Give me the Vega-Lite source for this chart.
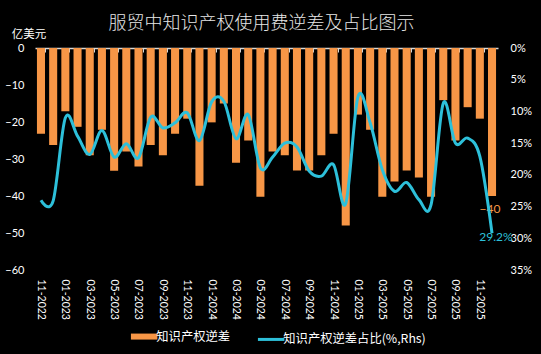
{
  "$schema": "https://vega.github.io/schema/vega-lite/v6.json",
  "width": 463,
  "height": 222,
  "autosize": {"type": "none"},
  "padding": {"left": 35, "top": 48, "right": 43, "bottom": 84},
  "background": "#000000",
  "title": {
    "text": "服贸中知识产权使用费逆差及占比图示",
    "color": "#e6e6e6",
    "fontSize": 18,
    "font": "Noto Sans CJK SC",
    "fontWeight": 300,
    "anchor": "middle",
    "dx": -5,
    "offset": -5
  },
  "config": {"view": {"stroke": null}, "axis": {"grid": false, "labelFont": "Lato"}},
  "data": {
    "values": [
      {"month": "11-2022", "deficit": -23.2, "ratio": 24.0},
      {"month": "12-2022", "deficit": -26.2, "ratio": 24.1},
      {"month": "01-2023", "deficit": -17.1, "ratio": 11.0},
      {"month": "02-2023", "deficit": -21.3, "ratio": 13.9},
      {"month": "03-2023", "deficit": -29.0, "ratio": 16.8},
      {"month": "04-2023", "deficit": -22.1, "ratio": 13.0},
      {"month": "05-2023", "deficit": -33.2, "ratio": 17.2},
      {"month": "06-2023", "deficit": -28.0, "ratio": 15.1},
      {"month": "07-2023", "deficit": -32.0, "ratio": 17.3},
      {"month": "08-2023", "deficit": -26.2, "ratio": 10.9},
      {"month": "09-2023", "deficit": -29.0, "ratio": 12.6},
      {"month": "10-2023", "deficit": -23.2, "ratio": 11.8},
      {"month": "11-2023", "deficit": -19.1, "ratio": 10.2},
      {"month": "12-2023", "deficit": -37.2, "ratio": 14.6},
      {"month": "01-2024", "deficit": -20.1, "ratio": 8.5},
      {"month": "02-2024", "deficit": -15.0, "ratio": 8.4},
      {"month": "03-2024", "deficit": -31.0, "ratio": 14.3},
      {"month": "04-2024", "deficit": -25.0, "ratio": 10.5},
      {"month": "05-2024", "deficit": -40.2, "ratio": 18.9},
      {"month": "06-2024", "deficit": -28.0, "ratio": 17.2},
      {"month": "07-2024", "deficit": -29.0, "ratio": 15.0},
      {"month": "08-2024", "deficit": -33.1, "ratio": 15.6},
      {"month": "09-2024", "deficit": -33.1, "ratio": 19.4},
      {"month": "10-2024", "deficit": -29.0, "ratio": 20.2},
      {"month": "11-2024", "deficit": -23.2, "ratio": 18.4},
      {"month": "12-2024", "deficit": -48.0, "ratio": 24.5},
      {"month": "01-2025", "deficit": -18.0, "ratio": 7.7},
      {"month": "02-2025", "deficit": -22.1, "ratio": 11.8},
      {"month": "03-2025", "deficit": -40.2, "ratio": 19.2},
      {"month": "04-2025", "deficit": -36.1, "ratio": 22.6},
      {"month": "05-2025", "deficit": -33.1, "ratio": 21.2},
      {"month": "06-2025", "deficit": -35.0, "ratio": 23.9},
      {"month": "07-2025", "deficit": -40.2, "ratio": 24.7},
      {"month": "08-2025", "deficit": -14.1, "ratio": 8.7},
      {"month": "09-2025", "deficit": -25.0, "ratio": 15.0},
      {"month": "10-2025", "deficit": -16.0, "ratio": 14.2},
      {"month": "11-2025", "deficit": -19.1, "ratio": 17.1},
      {"month": "12-2025", "deficit": -40.0, "ratio": 29.2}
    ]
  },
  "layer": [
    {
      "encoding": {
        "x": {
          "field": "month",
          "type": "ordinal",
          "sort": null,
          "scale": {"paddingInner": 0.34, "paddingOuter": 0.16},
          "axis": {
            "orient": "bottom",
            "title": null,
            "values": ["11-2022", "01-2023", "03-2023", "05-2023", "07-2023", "09-2023", "11-2023", "01-2024", "03-2024", "05-2024", "07-2024", "09-2024", "11-2024", "01-2025", "03-2025", "05-2025", "07-2025", "09-2025", "11-2025"],
            "labelAngle": 90,
            "labelColor": "#ffffff",
            "labelFontSize": 10.5,
            "labelPadding": 9,
            "labelOverlap": false,
            "domain": false,
            "ticks": false
          }
        },
        "y": {
          "field": "deficit",
          "type": "quantitative",
          "scale": {"domain": [-60, 0], "nice": false},
          "axis": {
            "values": [-60, -50, -40, -30, -20, -10, 0],
            "title": "亿美元",
            "titleAngle": 0,
            "titleX": -6.5,
            "titleY": -14,
            "titleAlign": "center",
            "titleBaseline": "middle",
            "titleColor": "#ffffff",
            "titleFont": "Noto Sans CJK SC",
            "titleFontWeight": "normal",
            "titleFontSize": 11.5,
            "labelColor": "#ffffff",
            "labelFontSize": 11,
            "labelPadding": 11,
            "labelOverlap": false,
            "domain": false,
            "ticks": false
          }
        }
      },
      "layer": [
        {
          "mark": {"type": "bar", "color": "#F79646"},
          "encoding": {
            "color": {
              "datum": "知识产权逆差",
              "scale": {"domain": ["知识产权逆差", "知识产权逆差占比(%,Rhs)"], "range": ["#F79646", "#2DC0DA"]},
              "legend": {
                "orient": "none",
                "legendX": 103,
                "legendY": 282,
                "direction": "horizontal",
                "title": null,
                "symbolType": "stroke",
                "symbolSize": 700,
                "symbolStrokeWidth": 5,
                "labelColor": "#ffffff",
                "labelFontSize": 12.3,
                "labelFont": "Noto Sans CJK SC",
                "labelOffset": 6,
                "labelLimit": 300,
                "columnPadding": 20,
                "encode": {
                  "symbols": {
                    "update": {
                      "stroke": {"signal": "datum.value == '知识产权逆差' ? '#F79646' : '#2DC0DA'"},
                      "strokeWidth": {"signal": "datum.value == '知识产权逆差' ? 6 : 3"},
                      "fill": {"value": "transparent"}
                    }
                  }
                }
              }
            }
          }
        },
        {
          "transform": [{"filter": "datum.month == '12-2025'"}],
          "mark": {"type": "text", "color": "#F79646", "fontSize": 12, "font": "Lato", "baseline": "top", "align": "center", "dy": 8, "dx": -2},
          "encoding": {
            "text": {"field": "deficit", "type": "quantitative", "format": ".0f"}
          }
        }
      ]
    },
    {
      "encoding": {
        "x": {
          "field": "month",
          "type": "ordinal",
          "sort": null,
          "axis": {
            "orient": "bottom",
            "offset": -222,
            "title": null,
            "labels": false,
            "values": ["11-2022", "01-2023", "03-2023", "05-2023", "07-2023", "09-2023", "11-2023", "01-2024", "03-2024", "05-2024", "07-2024", "09-2024", "11-2024", "01-2025", "03-2025", "05-2025", "07-2025", "09-2025", "11-2025"],
            "tickBand": "extent",
            "tickSize": 4,
            "tickColor": "#d9d9d9",
            "domainColor": "#d9d9d9",
            "domainWidth": 1.5
          }
        },
        "y": {
          "field": "ratio",
          "type": "quantitative",
          "scale": {"domain": [0, 35], "reverse": true, "nice": false},
          "axis": {
            "orient": "right",
            "title": null,
            "values": [0, 5, 10, 15, 20, 25, 30, 35],
            "labelExpr": "datum.value + '%'",
            "labelColor": "#ffffff",
            "labelFontSize": 11,
            "labelPadding": 12,
            "labelOverlap": false,
            "domain": false,
            "ticks": false
          }
        }
      },
      "layer": [
        {
          "mark": {"type": "line", "interpolate": "cardinal", "strokeWidth": 3, "color": "#2DC0DA"},
          "encoding": {
            "color": {"datum": "知识产权逆差占比(%,Rhs)"}
          }
        },
        {
          "transform": [{"filter": "datum.month == '12-2025'"}, {"calculate": "format(datum.ratio, '.1f') + '%'", "as": "ratioLabel"}],
          "mark": {"type": "text", "color": "#2DC0DA", "fontSize": 12, "font": "Lato", "baseline": "middle", "align": "center", "dy": 4, "dx": 4},
          "encoding": {
            "text": {"field": "ratioLabel"}
          }
        }
      ]
    }
  ],
  "resolve": {"scale": {"y": "independent"}, "axis": {"x": "independent"}}
}
